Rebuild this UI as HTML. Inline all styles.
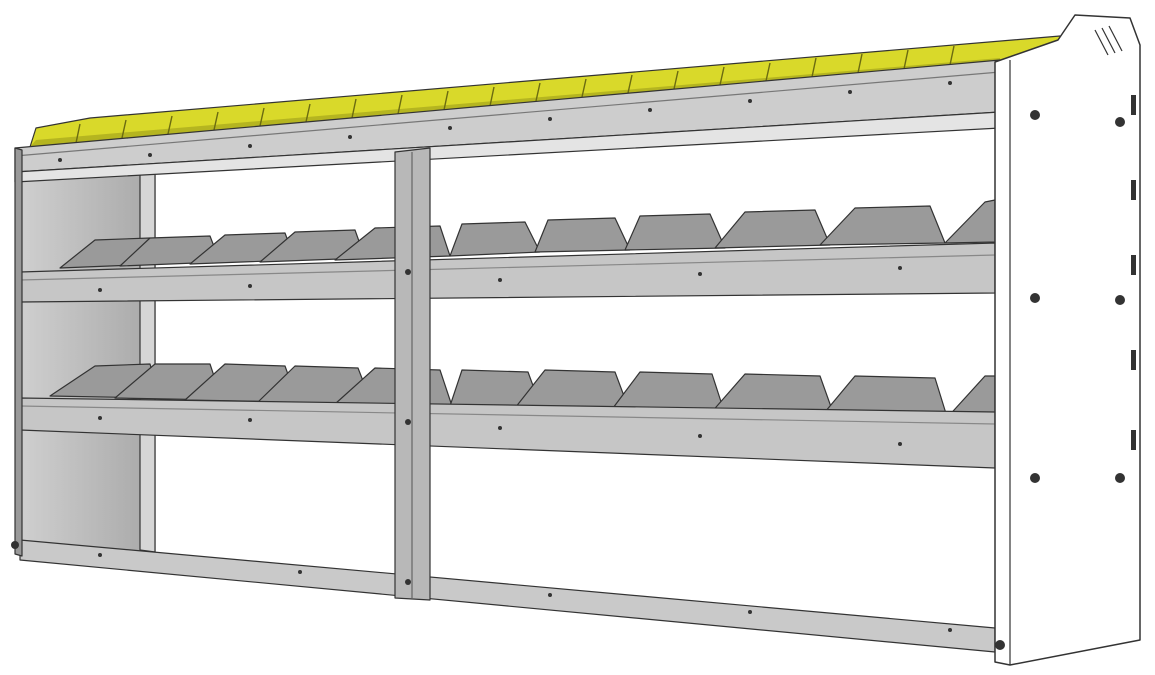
<!DOCTYPE html>
<html><head><meta charset="utf-8"><style>
html,body{margin:0;padding:0;background:#fff;}
svg{display:block;}
</style></head><body>
<svg width="1155" height="675" viewBox="0 0 1155 675" xmlns="http://www.w3.org/2000/svg">
<defs>
<linearGradient id="lp" x1="0" x2="1" y1="0" y2="0"><stop offset="0" stop-color="#d0d0d0"/><stop offset="1" stop-color="#a8a8a8"/></linearGradient>
</defs>
<g stroke="#333" stroke-width="1.2" stroke-linejoin="round">
<!-- left back panel -->
<polygon points="18,150 155,168 155,552 18,548" fill="url(#lp)"/>
<polygon points="140,166 155,168 155,552 140,550" fill="#d6d6d6"/>
<!-- yellow bins -->
<polygon points="30,147 36,128 90,118 1060,36 1063,58 1000,62" fill="#d9d92a"/>
<polygon points="30,147 36,140 1000,58 1000,62" fill="#b5b520" stroke="none"/>
<g stroke="#6b6b10" stroke-width="1.4">
<line x1="76" y1="143" x2="80" y2="124"/>
<line x1="122" y1="138" x2="126" y2="120"/>
<line x1="168" y1="134" x2="172" y2="116"/>
<line x1="214" y1="130" x2="218" y2="112"/>
<line x1="260" y1="126" x2="264" y2="108"/>
<line x1="306" y1="122" x2="310" y2="104"/>
<line x1="352" y1="118" x2="356" y2="99"/>
<line x1="398" y1="114" x2="402" y2="95"/>
<line x1="444" y1="110" x2="448" y2="91"/>
<line x1="490" y1="106" x2="494" y2="87"/>
<line x1="536" y1="101" x2="540" y2="83"/>
<line x1="582" y1="97" x2="586" y2="79"/>
<line x1="628" y1="93" x2="632" y2="75"/>
<line x1="674" y1="89" x2="678" y2="71"/>
<line x1="720" y1="85" x2="724" y2="67"/>
<line x1="766" y1="81" x2="770" y2="63"/>
<line x1="812" y1="77" x2="816" y2="58"/>
<line x1="858" y1="73" x2="862" y2="54"/>
<line x1="904" y1="69" x2="908" y2="50"/>
<line x1="950" y1="65" x2="954" y2="46"/>
</g>
<!-- shelf 1 dividers -->
<g fill="#9a9a9a">
<polygon points="60,268 95,240 150,238 160,264"/>
<polygon points="120,266 150,238 210,236 220,262"/>
<polygon points="190,264 225,235 285,233 295,260"/>
<polygon points="260,262 295,232 355,230 365,258"/>
<polygon points="335,260 375,228 440,226 450,256"/>
<polygon points="450,256 462,224 525,222 540,252"/>
<polygon points="535,252 548,220 615,218 630,250"/>
<polygon points="625,250 640,216 710,214 725,248"/>
<polygon points="715,248 745,212 815,210 830,245"/>
<polygon points="820,245 855,208 930,206 945,243"/>
<polygon points="945,243 985,202 995,200 995,242"/>
</g>
<!-- shelf 2 dividers -->
<g fill="#9a9a9a">
<polygon points="50,396 95,366 150,364 160,398"/>
<polygon points="115,398 155,364 210,364 222,400"/>
<polygon points="185,400 225,364 285,366 298,402"/>
<polygon points="258,402 295,366 358,368 372,404"/>
<polygon points="335,404 375,368 440,370 452,406"/>
<polygon points="450,406 462,370 528,372 542,410"/>
<polygon points="515,408 545,370 615,372 630,412"/>
<polygon points="610,412 640,372 712,374 725,414"/>
<polygon points="710,414 745,374 820,376 835,418"/>
<polygon points="820,418 855,376 935,378 948,420"/>
<polygon points="945,420 985,376 995,376 995,422"/>
</g>
<!-- top beam -->
<polygon points="15,148 1000,60 1000,112 15,172" fill="#cdcdcd"/>
<polygon points="15,172 1000,112 1000,128 15,182" fill="#e4e4e4"/>
<line x1="15" y1="156" x2="1000" y2="72" stroke="#777"/>
<!-- shelf 1 beam -->
<polygon points="20,272 995,243 995,293 20,302" fill="#c6c6c6"/>
<line x1="20" y1="280" x2="995" y2="255" stroke="#888"/>
<!-- shelf 2 beam -->
<polygon points="20,398 995,412 995,468 20,430" fill="#c6c6c6"/>
<line x1="20" y1="406" x2="995" y2="424" stroke="#888"/>
<!-- bottom beam -->
<polygon points="20,540 995,628 995,652 20,560" fill="#c9c9c9"/>
<!-- left post -->
<polygon points="15,148 22,150 22,556 15,554" fill="#999"/>
<!-- center post -->
<polygon points="395,152 430,148 430,600 395,598" fill="#b8b8b8"/>
<line x1="412" y1="152" x2="412" y2="598" stroke="#666"/>
<!-- right end panel -->
<polygon points="995,62 1058,40 1075,15 1130,18 1140,45 1140,640 1010,665 995,662" fill="#fff" stroke-width="1.5"/>
<line x1="1010" y1="60" x2="1010" y2="665"/>
<line x1="1095" y1="30" x2="1108" y2="55"/>
<line x1="1102" y1="28" x2="1115" y2="53"/>
<line x1="1109" y1="26" x2="1122" y2="51"/>
</g>
<!-- holes -->
<g fill="#333">
<circle cx="1035" cy="115" r="5"/><circle cx="1120" cy="122" r="5"/>
<circle cx="1035" cy="298" r="5"/><circle cx="1120" cy="300" r="5"/>
<circle cx="1035" cy="478" r="5"/><circle cx="1120" cy="478" r="5"/>
<circle cx="1000" cy="645" r="5"/><circle cx="15" cy="545" r="4"/>
<circle cx="408" cy="272" r="3"/><circle cx="408" cy="422" r="3"/><circle cx="408" cy="582" r="3"/>
<rect x="1131" y="95" width="5" height="20"/><rect x="1131" y="180" width="5" height="20"/>
<rect x="1131" y="255" width="5" height="20"/><rect x="1131" y="350" width="5" height="20"/>
<rect x="1131" y="430" width="5" height="20"/>
<circle cx="60" cy="160" r="2"/><circle cx="150" cy="155" r="2"/><circle cx="250" cy="146" r="2"/>
<circle cx="350" cy="137" r="2"/><circle cx="450" cy="128" r="2"/><circle cx="550" cy="119" r="2"/>
<circle cx="650" cy="110" r="2"/><circle cx="750" cy="101" r="2"/><circle cx="850" cy="92" r="2"/>
<circle cx="950" cy="83" r="2"/>
<circle cx="100" cy="290" r="2"/><circle cx="250" cy="286" r="2"/><circle cx="500" cy="280" r="2"/>
<circle cx="700" cy="274" r="2"/><circle cx="900" cy="268" r="2"/>
<circle cx="100" cy="418" r="2"/><circle cx="250" cy="420" r="2"/><circle cx="500" cy="428" r="2"/>
<circle cx="700" cy="436" r="2"/><circle cx="900" cy="444" r="2"/>
<circle cx="100" cy="555" r="2"/><circle cx="300" cy="572" r="2"/><circle cx="550" cy="595" r="2"/>
<circle cx="750" cy="612" r="2"/><circle cx="950" cy="630" r="2"/>
</g>
</svg>
</body></html>
